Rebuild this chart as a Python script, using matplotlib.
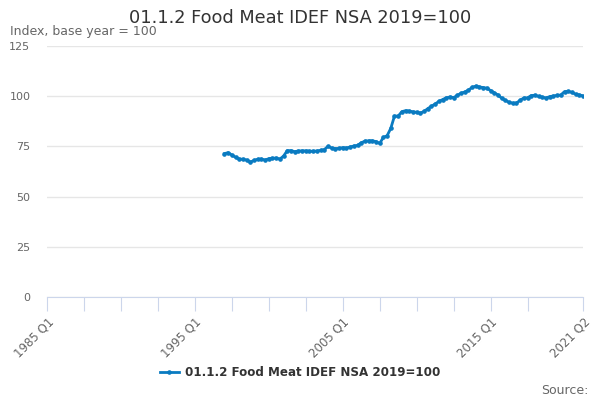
import matplotlib
matplotlib.use("Agg")
import matplotlib.pyplot as plt

# quarterly values, first point is 1997 Q1, last is 2021 Q2
start_year = 1997
values = [
    71.4, 71.9, 70.7, 69.6, 68.7, 68.6, 68.2, 67.2, 68.0, 68.6,
    68.7, 68.2, 68.9, 69.1, 69.2, 68.7, 70.2, 72.9, 72.9, 72.4,
    72.7, 72.8, 72.8, 72.6, 72.6, 72.7, 73.0, 73.4, 75.0, 74.2,
    73.9, 74.0, 74.4, 74.2, 74.7, 75.2, 75.5, 76.8, 77.6, 77.8,
    77.8, 77.4, 76.5, 79.5, 80.3, 84.0, 90.1, 90.1, 92.3, 92.8,
    92.6, 92.2, 92.0, 91.6, 92.4, 93.8, 95.0, 96.1, 97.4, 98.3,
    99.2, 99.6, 99.3, 100.4, 101.5, 102.1, 103.0, 104.4, 105.0, 104.6,
    104.3, 104.0, 102.8, 101.7, 100.6, 99.0, 97.9, 97.0, 96.5, 96.6,
    98.0, 99.1, 99.2, 100.3, 100.5, 99.9, 99.5, 99.1, 99.8, 100.1,
    100.4, 100.6, 102.3, 102.4, 101.9, 101.0, 100.6, 100.2,
]
series_name = "01.1.2 Food Meat IDEF NSA 2019=100"
title = "01.1.2 Food Meat IDEF NSA 2019=100"
y_label = "Index, base year = 100"
axis_start = (1985, 1)
axis_end = (2021, 2)
labelled = ["1985 Q1", "1995 Q1", "2005 Q1", "2015 Q1", "2021 Q2"]


def q_index(year, q):
    return (year - axis_start[0]) * 4 + (q - axis_start[1])


x0 = q_index(start_year, 1)
xs = [x0 + i for i in range(len(values))]
x_end = q_index(*axis_end)

blue = "#0a7bc1"
grey = "#666666"

fig = plt.figure(figsize=(6, 4), dpi=100)
ax = fig.add_axes([47 / 600, 1 - 297 / 400, 536 / 600, 251 / 400])

ax.plot(xs, values, color=blue, lw=2, marker="o", ms=2.3,
        label=series_name)

ax.set_xlim(0, x_end)
ax.set_ylim(0, 125)
ax.set_yticks(range(0, 126, 25))
ax.grid(axis="y", color="#e6e6e6", lw=1)
ax.set_axisbelow(True)
for s in ["top", "right", "left"]:
    ax.spines[s].set_visible(False)
ax.spines["bottom"].set_color("#ccd6eb")
ax.tick_params(axis="y", length=0, pad=12, labelcolor=grey, labelsize=8)

ticks = list(range(0, x_end - 10, 10)) + [x_end]
ax.set_xticks(ticks)
lab_pos = {q_index(int(s[:4]), int(s[-1])): s for s in labelled}
ax.set_xticklabels([lab_pos.get(t, "") for t in ticks])
ax.tick_params(axis="x", length=10, color="#ccd6eb", labelcolor=grey,
               labelsize=8.5, pad=3)
for lab in ax.get_xticklabels():
    lab.set_rotation(45)
    lab.set_rotation_mode("anchor")
    lab.set_ha("right")
    lab.set_va("top")

fig.text(0.5, 1 - 18 / 400, title, ha="center", va="center",
         fontsize=12.8, color="#333333")
fig.text(10 / 600, 1 - 32 / 400, y_label, ha="left", va="center",
         fontsize=9, color=grey)
fig.legend(loc="center", bbox_to_anchor=(0.5, 1 - 373 / 400), frameon=False,
           prop={"weight": "bold", "size": 8.6}, labelcolor="#333333",
           handlelength=1.6, handletextpad=0.5)
fig.text(588 / 600, 1 - 390 / 400, "Source:", ha="right", va="center",
         fontsize=9, color=grey)

fig.savefig("out.png", dpi=100)
